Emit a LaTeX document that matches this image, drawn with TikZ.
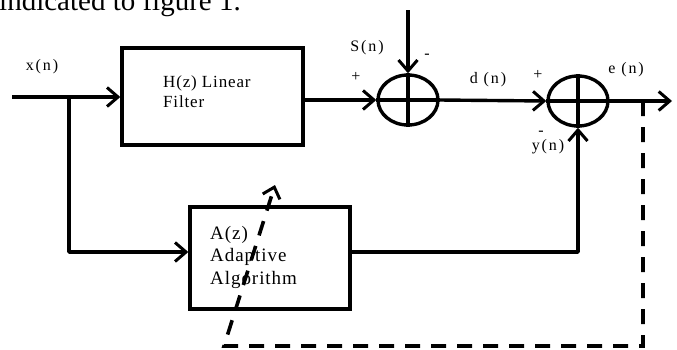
\documentclass[tikz,border=0pt]{standalone}
\usepackage{fontspec}
\setmainfont{Liberation Serif}
\newfontfamily\lab[LetterSpace=12]{Liberation Serif}
\newfontfamily\boxf[LetterSpace=5]{Liberation Serif}
\usetikzlibrary{shapes.geometric,arrows.meta}
\begin{document}
\begin{tikzpicture}[x=1pt,y=-1pt,
  wire/.style={line width=3.4pt,line join=round},
  arr/.style={wire,-{Straight Barb[length=11pt,width=19pt,line width=3pt]}},
  dwire/.style={line width=3.6pt,dash pattern=on 15pt off 11pt,-{Straight Barb[length=10pt,width=18pt,line width=3pt]}},
  blk/.style={draw,line width=3.4pt,rectangle,inner sep=0pt},
  summ/.style={draw,line width=3.4pt,ellipse,minimum width=60pt,minimum height=50pt,inner sep=0pt},
  lbl/.style={inner sep=0pt,font=\lab\fontsize{16}{18}\selectfont},
  btxt/.style={inner sep=0pt,anchor=west,align=left}]
\useasboundingbox (0,0) rectangle (677,349);
\clip (0,0) rectangle (677,349);
% cut-off text line at top
\node[inner sep=0pt,anchor=base west,font=\fontsize{29}{32}\selectfont] (cap) at (-1,10) {indicated to figure 1.};
% blocks
\node[blk,minimum width=181pt,minimum height=97pt] (Hb) at (212.5,96.5) {};
\node[blk,minimum width=160pt,minimum height=102pt] (Ab) at (270,258) {};
\node[btxt,font=\boxf\fontsize{17}{19}\selectfont] (Ht1) at (163,83) {H(z) Linear};
\node[btxt,font=\boxf\fontsize{17}{19}\selectfont] (Ht2) at (163,102) {Filter};
\node[btxt,font=\boxf\fontsize{19}{22}\selectfont] (At1) at (210,235) {A(z)};
\node[btxt,font=\boxf\fontsize{19}{22}\selectfont] (At2) at (210,257) {Adaptive};
\node[btxt,font=\boxf\fontsize{19}{22}\selectfont] (At3) at (210,280) {Algorithm};
% summing junctions
\node[summ] (s1) at (408,100) {};
\node[summ] (s2) at (578,101) {};
\draw[wire] (s1.north) -- (s1.south) (s1.west) -- (s1.east);
\draw[wire] (s2.north) -- (s2.south) (s2.west) -- (s2.east);
% coordinates
\coordinate (in) at (12,97);
\coordinate (br) at (69,97);
\coordinate (sin) at (408,10);
\coordinate (out) at (672,101);
\coordinate (tap) at (643,101);
\coordinate (corner) at (224,346);
\coordinate (tip) at (275,185);
% connectors
\draw[arr] (in) -- (in -| Hb.west);
\draw[arr] (br) |- ([yshift=6pt]Ab.west);
\draw[arr] (Hb.east |- s1.west) -- (s1.west);
\draw[arr] (sin) -- (s1.north);
\draw[arr] (s1.east) -- (s2.west);
\draw[arr] (s2.east) -- (out);
\draw[arr] ([yshift=6pt]Ab.east) -| (s2.south);
\draw[dwire] (tap) |- (corner) -- (tip);
% labels
\node[lbl] (lx) at (42,67) {x(n)};
\node[lbl] (lS) at (367,48) {S(n)};
\node[lbl] (lp1) at (356,77) {+};
\node[lbl] (lm1) at (427,56) {-};
\node[lbl] (ld) at (488,80) {d (n)};
\node[lbl] (lp2) at (538,75) {+};
\node[lbl] (le) at (626,70) {e (n)};
\node[lbl] (lm2) at (541,133) {-};
\node[lbl] (ly) at (548,147) {y(n)};
\end{tikzpicture}
\end{document}
